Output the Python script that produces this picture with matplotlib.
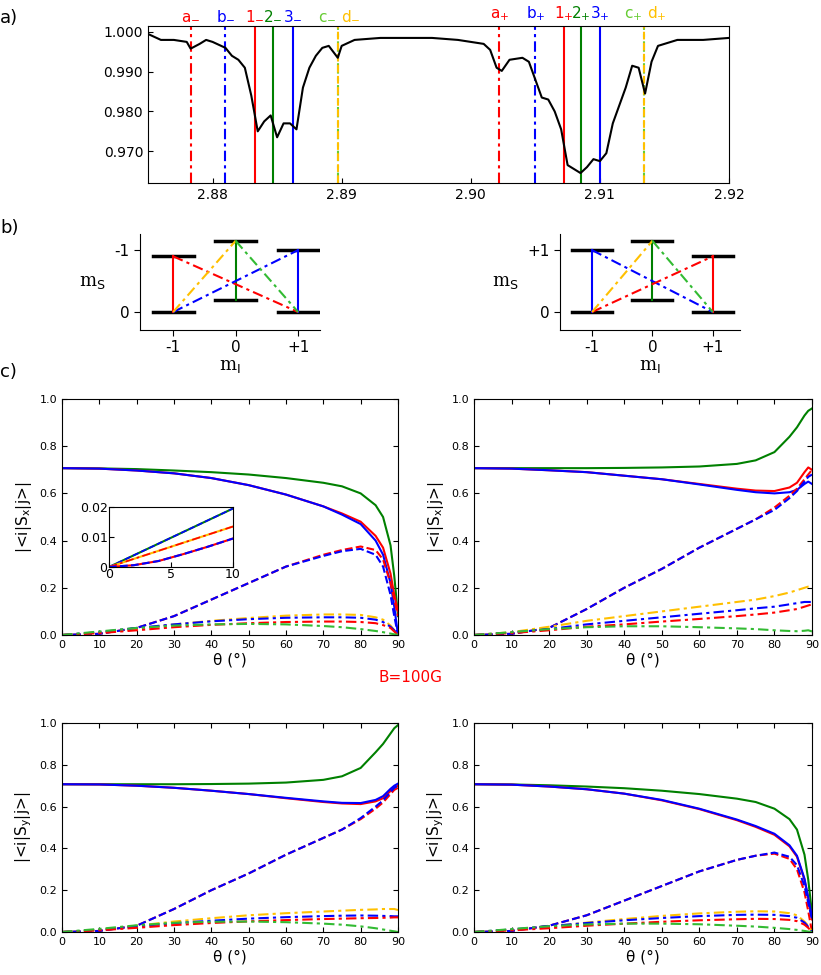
import matplotlib
matplotlib.use("Agg")
import matplotlib.pyplot as plt

W, H = 821, 975

# -------------------------------
# a) ODMR spectrum
# -------------------------------
freq = [2.875, 2.876, 2.877, 2.878, 2.8783, 2.879, 2.8795, 2.880, 2.881, 2.8815,
        2.882, 2.8825, 2.883, 2.8835, 2.884, 2.8845, 2.885, 2.8855, 2.886, 2.8865,
        2.887, 2.8875, 2.888, 2.8885, 2.889, 2.8897, 2.890, 2.891, 2.893, 2.895,
        2.897, 2.899, 2.901, 2.9015, 2.902, 2.9024, 2.903, 2.904, 2.9045, 2.905,
        2.9055, 2.906, 2.9065, 2.907, 2.9075, 2.908, 2.9085, 2.909, 2.9095, 2.910,
        2.9105, 2.911, 2.912, 2.9125, 2.913, 2.9135, 2.914, 2.9145, 2.916, 2.918, 2.92]
signal = [0.9995, 0.998, 0.998, 0.9975, 0.9958, 0.997, 0.998, 0.9975, 0.996, 0.994,
          0.993, 0.991, 0.984, 0.975, 0.9775, 0.979, 0.9735, 0.977, 0.977, 0.9755,
          0.986, 0.991, 0.994, 0.996, 0.9965, 0.9935, 0.9965, 0.998, 0.9985, 0.9985,
          0.9985, 0.998, 0.997, 0.9955, 0.991, 0.9902, 0.993, 0.9935, 0.9925, 0.988,
          0.9835, 0.983, 0.980, 0.9755, 0.9665, 0.9655, 0.9645, 0.966, 0.968, 0.9675,
          0.9695, 0.977, 0.986, 0.9915, 0.991, 0.9845, 0.9925, 0.9965, 0.998, 0.998, 0.9985]

# transition markers: (freq, colour, style, label, label colour)
markers = [
    (2.8783, "red", "-.", "a", "red"),
    (2.8810, "blue", "-.", "b", "blue"),
    (2.8833, "red", "-", "1", "red"),
    (2.8847, "green", "-", "2", "green"),
    (2.8862, "blue", "-", "3", "blue"),
    (2.9022, "red", "-.", "a", "red"),
    (2.9050, "blue", "-.", "b", "blue"),
    (2.9072, "red", "-", "1", "red"),
    (2.9085, "green", "-", "2", "green"),
    (2.9100, "blue", "-", "3", "blue"),
]
cd_lines = [2.8897, 2.9134]

# -------------------------------
# c) matrix elements vs theta
# -------------------------------
theta = [0, 10, 20, 30, 40, 50, 60, 70, 75, 80, 84, 86, 88, 89, 90]

panels = {
    "TL": {
        ("green", "-"): [0.707, 0.706, 0.703, 0.697, 0.690, 0.680, 0.665, 0.645, 0.630, 0.600, 0.55, 0.50, 0.38, 0.25, 0.08],
        ("red", "-"): [0.707, 0.705, 0.697, 0.685, 0.665, 0.635, 0.595, 0.545, 0.515, 0.48, 0.42, 0.37, 0.26, 0.17, 0.10],
        ("blue", "-"): [0.707, 0.705, 0.697, 0.685, 0.665, 0.635, 0.595, 0.545, 0.51, 0.47, 0.40, 0.34, 0.22, 0.12, 0.0],
        ("red", "--"): [0, 0.005, 0.03, 0.08, 0.15, 0.22, 0.29, 0.34, 0.36, 0.375, 0.36, 0.32, 0.22, 0.15, 0.08],
        ("blue", "--"): [0, 0.005, 0.03, 0.08, 0.15, 0.22, 0.29, 0.335, 0.355, 0.365, 0.34, 0.29, 0.17, 0.08, 0.0],
        ("#ffc000", "-."): [0, 0.010, 0.025, 0.045, 0.060, 0.072, 0.082, 0.087, 0.087, 0.085, 0.075, 0.065, 0.04, 0.02, 0.0],
        ("blue", "-."): [0, 0.012, 0.030, 0.045, 0.058, 0.067, 0.073, 0.075, 0.075, 0.073, 0.065, 0.055, 0.035, 0.02, 0.0],
        ("red", "-."): [0, 0.008, 0.020, 0.033, 0.043, 0.050, 0.055, 0.057, 0.057, 0.055, 0.050, 0.042, 0.03, 0.015, 0.0],
        ("#33bb33", "-."): [0, 0.015, 0.030, 0.040, 0.045, 0.047, 0.045, 0.038, 0.033, 0.025, 0.017, 0.012, 0.006, 0.003, 0.0],
    },
    "TR": {
        ("green", "-"): [0.707, 0.707, 0.707, 0.707, 0.708, 0.710, 0.714, 0.725, 0.74, 0.775, 0.84, 0.88, 0.93, 0.95, 0.96],
        ("red", "-"): [0.707, 0.705, 0.698, 0.69, 0.675, 0.66, 0.64, 0.62, 0.612, 0.61, 0.625, 0.645, 0.69, 0.71, 0.70],
        ("blue", "-"): [0.707, 0.705, 0.698, 0.69, 0.675, 0.66, 0.638, 0.615, 0.605, 0.60, 0.605, 0.615, 0.64, 0.65, 0.64],
        ("red", "--"): [0, 0.005, 0.03, 0.11, 0.20, 0.28, 0.37, 0.45, 0.49, 0.54, 0.59, 0.62, 0.66, 0.68, 0.70],
        ("blue", "--"): [0, 0.005, 0.03, 0.11, 0.20, 0.28, 0.37, 0.45, 0.49, 0.53, 0.58, 0.61, 0.65, 0.67, 0.68],
        ("#ffc000", "-."): [0, 0.012, 0.035, 0.06, 0.08, 0.10, 0.12, 0.14, 0.15, 0.165, 0.18, 0.19, 0.20, 0.205, 0.205],
        ("blue", "-."): [0, 0.010, 0.025, 0.045, 0.06, 0.075, 0.09, 0.105, 0.113, 0.12, 0.13, 0.135, 0.14, 0.14, 0.14],
        ("red", "-."): [0, 0.008, 0.020, 0.035, 0.045, 0.057, 0.068, 0.08, 0.087, 0.095, 0.105, 0.11, 0.12, 0.125, 0.13],
        ("#33bb33", "-."): [0, 0.012, 0.025, 0.033, 0.037, 0.037, 0.033, 0.028, 0.025, 0.020, 0.017, 0.016, 0.018, 0.02, 0.015],
    },
    "BL": {
        ("green", "-"): [0.707, 0.707, 0.707, 0.707, 0.708, 0.710, 0.715, 0.728, 0.745, 0.785, 0.86, 0.90, 0.95, 0.975, 0.99],
        ("red", "-"): [0.707, 0.706, 0.700, 0.69, 0.676, 0.66, 0.64, 0.622, 0.615, 0.612, 0.625, 0.64, 0.675, 0.69, 0.70],
        ("blue", "-"): [0.707, 0.706, 0.700, 0.69, 0.676, 0.66, 0.642, 0.625, 0.618, 0.617, 0.632, 0.65, 0.685, 0.70, 0.71],
        ("red", "--"): [0, 0.005, 0.03, 0.11, 0.20, 0.28, 0.37, 0.45, 0.49, 0.54, 0.59, 0.62, 0.66, 0.68, 0.69],
        ("blue", "--"): [0, 0.005, 0.03, 0.11, 0.20, 0.28, 0.37, 0.45, 0.49, 0.545, 0.60, 0.63, 0.67, 0.69, 0.70],
        ("#ffc000", "-."): [0, 0.010, 0.030, 0.050, 0.066, 0.080, 0.090, 0.098, 0.102, 0.106, 0.108, 0.11, 0.11, 0.11, 0.105],
        ("blue", "-."): [0, 0.010, 0.027, 0.042, 0.054, 0.064, 0.071, 0.076, 0.078, 0.079, 0.078, 0.077, 0.076, 0.075, 0.075],
        ("red", "-."): [0, 0.008, 0.020, 0.033, 0.043, 0.051, 0.057, 0.062, 0.064, 0.066, 0.067, 0.068, 0.069, 0.07, 0.07],
        ("#33bb33", "-."): [0, 0.015, 0.032, 0.044, 0.049, 0.050, 0.047, 0.040, 0.035, 0.027, 0.018, 0.012, 0.006, 0.003, 0.0],
    },
    "BR": {
        ("green", "-"): [0.707, 0.706, 0.702, 0.696, 0.688, 0.676, 0.660, 0.638, 0.622, 0.59, 0.54, 0.49, 0.37, 0.25, 0.09],
        ("red", "-"): [0.707, 0.705, 0.696, 0.683, 0.662, 0.630, 0.588, 0.535, 0.503, 0.465, 0.41, 0.36, 0.25, 0.16, 0.06],
        ("blue", "-"): [0.707, 0.705, 0.696, 0.683, 0.662, 0.632, 0.590, 0.538, 0.507, 0.47, 0.415, 0.365, 0.255, 0.165, 0.07],
        ("red", "--"): [0, 0.005, 0.03, 0.08, 0.15, 0.22, 0.29, 0.345, 0.365, 0.375, 0.35, 0.30, 0.19, 0.10, 0.0],
        ("blue", "--"): [0, 0.005, 0.03, 0.08, 0.15, 0.22, 0.29, 0.345, 0.365, 0.38, 0.36, 0.32, 0.22, 0.14, 0.06],
        ("#ffc000", "-."): [0, 0.010, 0.025, 0.045, 0.062, 0.077, 0.089, 0.097, 0.099, 0.098, 0.09, 0.08, 0.05, 0.03, 0.0],
        ("blue", "-."): [0, 0.012, 0.028, 0.043, 0.056, 0.067, 0.076, 0.082, 0.083, 0.082, 0.076, 0.068, 0.045, 0.025, 0.0],
        ("red", "-."): [0, 0.008, 0.018, 0.030, 0.040, 0.049, 0.056, 0.061, 0.063, 0.062, 0.058, 0.052, 0.035, 0.02, 0.0],
        ("#33bb33", "-."): [0, 0.014, 0.028, 0.036, 0.040, 0.040, 0.037, 0.030, 0.026, 0.020, 0.014, 0.010, 0.005, 0.002, 0.0],
    },
}

inset_theta = [0, 2, 4, 6, 8, 10]
inset_top = [0, 0.0039, 0.0078, 0.0117, 0.0156, 0.0195]
inset_mid = [0, 0.0027, 0.0054, 0.0081, 0.0108, 0.0135]
inset_low = [0, 0.0006, 0.0020, 0.0043, 0.0068, 0.0095]

DASHDOT = (0, (5, 2, 1.5, 2))


def ax_px(fig, x0, y0, x1, y1):
    return fig.add_axes([x0 / W, 1 - y1 / H, (x1 - x0) / W, (y1 - y0) / H])


def style(ls):
    return DASHDOT if ls == "-." else ls


fig = plt.figure(figsize=(W / 100, H / 100), dpi=100)

# ---- panel a
ax = ax_px(fig, 148, 26, 729, 183)
ax.plot(freq, signal, color="black", lw=1.5, zorder=3)
for f, c, ls, lab, lc in markers:
    ax.axvline(f, color=c, ls=style(ls), lw=1.5, zorder=2)
    sub = "-" if f < 2.895 else "+"
    ax.text(f, 1.0022, lab + "$_{" + sub + "}$", color=lc, ha="center",
            va="bottom", fontsize=11)
for f in cd_lines:
    ax.axvline(f, color="#66cc33", ls=DASHDOT, lw=1.5, zorder=2)
    ax.axvline(f, color="#ffc000", ls="--", lw=1.5, zorder=2)
    sub = "-" if f < 2.895 else "+"
    ax.text(f - 0.0008, 1.0022, "c$_{" + sub + "}$", color="#66cc33",
            ha="center", va="bottom", fontsize=11)
    ax.text(f + 0.0010, 1.0022, "d$_{" + sub + "}$", color="#ffc000",
            ha="center", va="bottom", fontsize=11)
ax.set_xlim(2.875, 2.92)
ax.set_ylim(0.962, 1.0015)
ax.set_xticks([2.88, 2.89, 2.90, 2.91, 2.92])
ax.set_xticklabels(["2.88", "2.89", "2.90", "2.91", "2.92"])
ax.set_yticks([0.970, 0.980, 0.990, 1.000])
ax.set_yticklabels(["0.970", "0.980", "0.990", "1.000"])
ax.tick_params(labelsize=10, direction="in")
fig.text(0, 1 - 18 / H, "a)", fontsize=13, va="center")

# ---- panel b energy diagrams
diagrams = [
    (140, 320, "-1",
     {-1: (0.0, 0.9), 0: (0.2, 1.15), 1: (0.0, 1.0)},
     [((-1, 0.0), (-1, 0.9), "red", "-"), ((0, 0.2), (0, 1.15), "green", "-"),
      ((1, 0.0), (1, 1.0), "blue", "-"), ((-1, 0.9), (1, 0.0), "red", "-."),
      ((-1, 0.0), (1, 1.0), "blue", "-."), ((-1, 0.0), (0, 1.15), "#ffc000", "-."),
      ((0, 1.15), (1, 0.0), "#33bb33", "-.")]),
    (560, 740, "+1",
     {-1: (0.0, 1.0), 0: (0.2, 1.15), 1: (0.0, 0.9)},
     [((-1, 0.0), (-1, 1.0), "blue", "-"), ((0, 0.2), (0, 1.15), "green", "-"),
      ((1, 0.0), (1, 0.9), "red", "-"), ((-1, 1.0), (1, 0.0), "blue", "-."),
      ((-1, 0.0), (1, 0.9), "red", "-."), ((-1, 0.0), (0, 1.15), "#ffc000", "-."),
      ((0, 1.15), (1, 0.0), "#33bb33", "-.")]),
]
for x0, x1, toplab, levels, trans in diagrams:
    bx = ax_px(fig, x0, 234, x1, 330)
    for mi, (lo, hi) in levels.items():
        for lvl in (lo, hi):
            bx.plot([mi - 0.33, mi + 0.33], [lvl, lvl], color="black", lw=2.5)
    for (xa, ya), (xb, yb), c, ls in trans:
        bx.plot([xa, xb], [ya, yb], color=c, ls=style(ls), lw=1.5)
    bx.set_xlim(-1.53, 1.35 if x0 < 400 else 1.45)
    bx.set_ylim(-0.29, 1.26)
    bx.spines["top"].set_visible(False)
    bx.spines["right"].set_visible(False)
    bx.set_xticks([-1, 0, 1])
    bx.set_xticklabels(["-1", "0", "+1"])
    bx.set_yticks([0, 1])
    bx.set_yticklabels(["0", toplab])
    bx.tick_params(labelsize=11, length=4)
    bx.set_xlabel("m$_\\mathrm{I}$", fontsize=13, family="serif", labelpad=1)
    bx.set_ylabel("m$_\\mathrm{S}$", fontsize=13, family="serif", rotation=0,
                  labelpad=16, va="center")
fig.text(0, 1 - 228 / H, "b)", fontsize=13, va="center")
fig.text(0, 1 - 372 / H, "c)", fontsize=13, va="center")

# ---- panel c
boxes = {
    "TL": (62, 399, 398, 635, "|<i|S$_\\mathrm{x}$|j>|"),
    "TR": (474, 399, 812, 635, "|<i|S$_\\mathrm{x}$|j>|"),
    "BL": (62, 723, 398, 932, "|<i|S$_\\mathrm{y}$|j>|"),
    "BR": (474, 723, 812, 932, "|<i|S$_\\mathrm{y}$|j>|"),
}
for key, (x0, y0, x1, y1, ylab) in boxes.items():
    cx = ax_px(fig, x0, y0, x1, y1)
    for (c, ls), vals in panels[key].items():
        cx.plot(theta, vals, color=c, ls=style(ls), lw=1.5)
    cx.set_xlim(0, 90)
    cx.set_ylim(0, 1.0)
    cx.set_xticks(range(0, 91, 10))
    cx.set_yticks([0, 0.2, 0.4, 0.6, 0.8, 1.0])
    cx.set_yticklabels(["0.0", "0.2", "0.4", "0.6", "0.8", "1.0"])
    cx.tick_params(labelsize=8, direction="in", top=True, right=True)
    cx.set_xlabel("θ (°)", fontsize=11, labelpad=2)
    cx.set_ylabel(ylab, fontsize=11)

ix = ax_px(fig, 109, 507, 233, 567)
ix.plot(inset_theta, inset_top, color="green", lw=1.5)
ix.plot(inset_theta, inset_top, color="blue", ls="--", lw=1.2)
ix.plot(inset_theta, inset_mid, color="#ffc000", lw=1.5)
ix.plot(inset_theta, inset_mid, color="red", ls=DASHDOT, lw=1.2)
ix.plot(inset_theta, inset_low, color="red", lw=1.5)
ix.plot(inset_theta, inset_low, color="blue", ls="--", lw=1.5)
ix.set_xlim(0, 10)
ix.set_ylim(0, 0.02)
ix.set_xticks([0, 5, 10])
ix.set_yticks([0, 0.01, 0.02])
ix.set_yticklabels(["0", "0.01", "0.02"])
ix.tick_params(labelsize=9, direction="in", pad=1)

fig.text(410 / W, 1 - 677 / H, "B=100G", color="red", fontsize=11,
         ha="center", va="center")

fig.savefig("out.png", dpi=100)
